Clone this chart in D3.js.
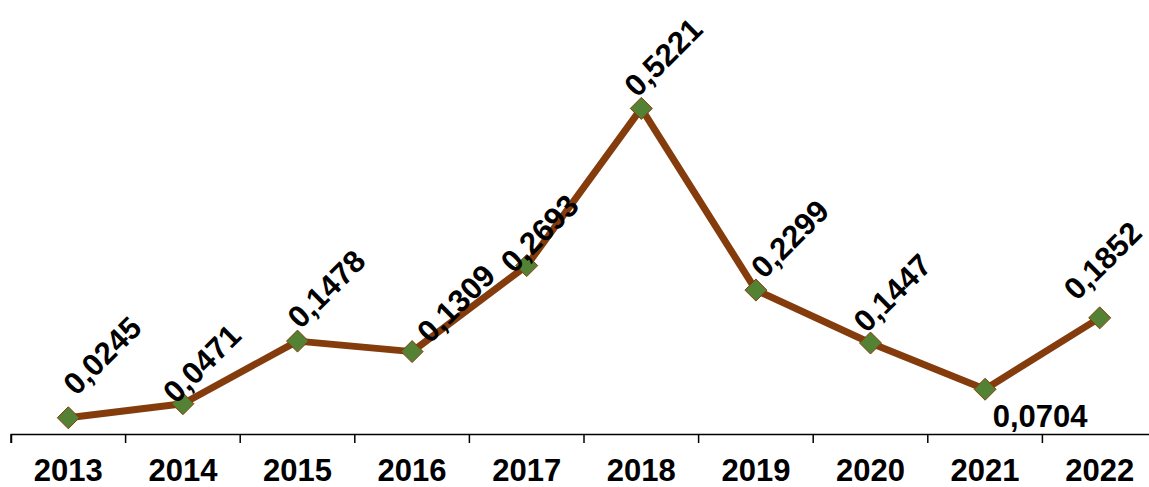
<!DOCTYPE html>
<html>
<head>
<meta charset="utf-8">
<script src="https://cdn.jsdelivr.net/npm/d3@7"></script>
<style>
  body { margin: 0; background: #fff; }
  svg { display: block; font-family: "Liberation Sans", Arial, sans-serif; }
</style>
</head>
<body>
<svg id="chart" width="1149" height="487"></svg>
<script>
// data
var years = ["2013", "2014", "2015", "2016", "2017", "2018", "2019", "2020", "2021", "2022"];
var values = [0.0245, 0.0471, 0.1478, 0.1309, 0.2693, 0.5221, 0.2299, 0.1447, 0.0704, 0.1852];
var labels = ["0,0245", "0,0471", "0,1478", "0,1309", "0,2693", "0,5221", "0,2299", "0,1447", "0,0704", "0,1852"];

// label nudges (px) relative to each marker, as the labels sit in the picture
var labelDx = [8, -7, 3, 18, -13, -4, 8, -4, 55, -23];
var labelDy = [-21, 1, -11, -7, 9, -10, -10, -9, 38, -16];

var svg = d3.select("#chart");

var x = d3.scaleBand().domain(years).range([11, 1157]);
var y = d3.scaleLinear().domain([0, 0.6]).range([433, 60]);

// x axis
var axis = d3.axisBottom(x).tickSize(9).tickFormat("");
var gx = svg.append("g").attr("transform", "translate(0,434)").call(axis);
gx.select(".domain").attr("stroke", "#000").attr("stroke-width", 1.5);
gx.selectAll(".tick").remove();
// ticks at band edges
var edges = years.map(function(d) { return x(d); }).concat([x.range()[1]]);
gx.selectAll("line.edge")
  .data(edges)
  .enter().append("line")
  .attr("class", "edge")
  .attr("x1", function(d) { return d; })
  .attr("x2", function(d) { return d; })
  .attr("y1", 0).attr("y2", 9)
  .attr("stroke", "#000").attr("stroke-width", 1.5);

svg.selectAll("text.year")
  .data(years)
  .enter().append("text")
  .attr("class", "year")
  .attr("x", function(d) { return x(d) + x.bandwidth() / 2; })
  .attr("y", 481)
  .attr("text-anchor", "middle")
  .attr("font-size", 31)
  .attr("font-weight", "bold")
  .text(function(d) { return d; });

var cx = function(d, i) { return x(years[i]) + x.bandwidth() / 2; };

// line
var line = d3.line()
  .x(function(d, i) { return cx(d, i); })
  .y(function(d) { return y(d); });

svg.append("path")
  .datum(values)
  .attr("d", line)
  .attr("fill", "none")
  .attr("stroke", "#843C0C")
  .attr("stroke-width", 7)
  .attr("stroke-linejoin", "round");

// diamond markers
svg.selectAll("path.mark")
  .data(values)
  .enter().append("path")
  .attr("class", "mark")
  .attr("d", "M0,-11L11,0L0,11L-11,0Z")
  .attr("transform", function(d, i) { return "translate(" + cx(d, i) + "," + y(d) + ")"; })
  .attr("fill", "#548235")
  .attr("stroke", "#843C0C")
  .attr("stroke-width", 1);

// value labels
svg.selectAll("text.val")
  .data(values)
  .enter().append("text")
  .attr("class", "val")
  .attr("transform", function(d, i) {
    var t = "translate(" + (cx(d, i) + labelDx[i]) + "," + (y(d) + labelDy[i]) + ")";
    return i === 8 ? t : t + " rotate(-45)";
  })
  .attr("text-anchor", function(d, i) { return i === 8 ? "middle" : "start"; })
  .attr("font-size", 31)
  .attr("font-weight", "bold")
  .text(function(d, i) { return labels[i]; });
</script>
</body>
</html>
